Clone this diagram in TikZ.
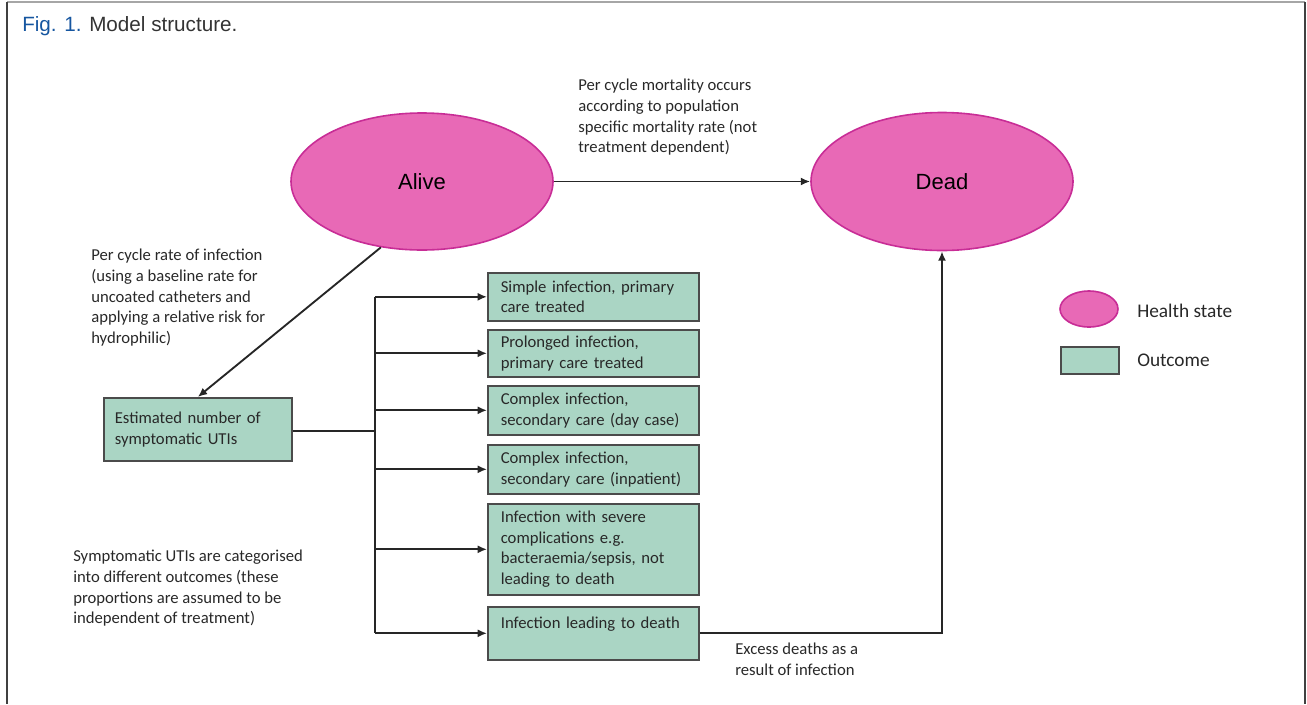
\documentclass[tikz,border=0pt]{standalone}
\usepackage{fontspec}
\setmainfont{Carlito}
\newfontfamily\arialfont{Liberation Sans}
\usetikzlibrary{shapes.geometric,arrows.meta}

\definecolor{statepink}{RGB}{232,105,182}
\definecolor{stateedge}{RGB}{200,45,150}
\definecolor{outgreen}{RGB}{170,213,196}
\definecolor{outedge}{RGB}{75,75,75}
\definecolor{figblue}{RGB}{22,86,160}
\definecolor{txtgray}{RGB}{40,40,40}

\tikzset{
  healthstate/.style={ellipse, draw=stateedge, fill=statepink, line width=1.2pt, inner sep=0pt,
    font=\arialfont\fontsize{16.5}{19}\selectfont, text=black},
  outbox/.style={rectangle, draw=outedge, fill=outgreen, line width=1.2pt, anchor=north west,
    align=left, inner xsep=9.75pt, inner ysep=0pt, text width=138.75pt, text=txtgray,
    font=\fontsize{12.5}{15.5}\selectfont},
  note/.style={anchor=north west, inner sep=0pt, align=left, text=txtgray,
    font=\fontsize{12.5}{15.5}\selectfont},
  arr/.style={-{Latex[length=7pt,width=6pt]}, line width=1.4pt, black!85},
  conn/.style={line width=1.4pt, black!85}
}

\begin{document}
\begin{tikzpicture}[x=0.75pt,y=0.75pt,yscale=-1,xscale=1]
\useasboundingbox (0,0) rectangle (1307,704);

%Frame
\draw [gray!70, line width=1pt] (7,2) -- (1305,2) ;
\draw [black!75, line width=1pt] (7,2) -- (7,704) (1305,2) -- (1305,704) ;

% Title
\node (title) [anchor=west, inner sep=0pt, font=\arialfont\fontsize{15.5}{18}\selectfont, text=black!80]
  at (22,26) {\textcolor{figblue}{Fig. 1.} Model structure.};

%Health states
\node (alive) [healthstate, minimum width=196.5pt, minimum height=102.75pt] at (422,181.5) {Alive};
\node (dead) [healthstate, minimum width=196.5pt, minimum height=103.5pt] at (942,181.5) {Dead};

%Outcomes
\node (est) [outbox, text width=124.5pt, inner xsep=8.25pt, minimum height=47.25pt] at (103,397)
  {Estimated number of\\symptomatic UTIs\\[-4pt]};
\node (o1) [outbox, minimum height=36pt] at (487,272) {Simple infection, primary\\care treated};
\node (o2) [outbox, minimum height=35.25pt] at (487,329) {Prolonged infection,\\primary care treated};
\node (o3) [outbox, minimum height=36.75pt] at (487,385) {Complex infection,\\secondary care (day case)};
\node (o4) [outbox, minimum height=36.75pt] at (487,444) {Complex infection,\\secondary care (inpatient)};
\node (o5) [outbox, minimum height=68.25pt] at (487,503)
  {Infection with severe\\complications e.g.\\bacteraemia/sepsis, not\\leading to death};
\node (o6) [outbox, minimum height=39.75pt] at (487,606) {Infection leading to death\\ \mbox{}};

%Legend
\node (lgstate) [healthstate, minimum width=43.5pt, minimum height=27pt] at (1089,309) {};
\node (lgout) [outbox, minimum width=43.5pt, minimum height=20.25pt, text width=0pt, inner xsep=0pt] at (1060,346) {};
\node (lgstatetxt) [anchor=west, inner sep=0pt, text=txtgray, font=\fontsize{14.5}{17}\selectfont] at (1137,311) {Health state};
\node (lgouttxt) [anchor=west, inner sep=0pt, text=txtgray, font=\fontsize{14.5}{17}\selectfont] at (1137,360) {Outcome};

% Text Node
\node (mortnote) [note] at (578,79) {Per cycle mortality occurs\\according to population\\specific mortality rate (not\\treatment dependent)};
% Text Node
\node (infnote) [note] at (91,249) {Per cycle rate of infection\\(using a baseline rate for\\uncoated catheters and\\applying a relative risk for\\hydrophilic)};
% Text Node
\node (catnote) [note] at (73,550) {Symptomatic UTIs are categorised\\into different outcomes (these\\proportions are assumed to be\\independent of treatment)};
% Text Node
\node (excnote) [note] at (735,643) {Excess deaths as a\\result of infection};

%Connectors
\coordinate (bus) at (375,431);
\draw [arr] (alive.east) -- (dead.west);
\draw [arr] (alive.238) -- (est.north);
\draw [conn] (est.east |- bus) -- (bus);
\draw [conn] (bus |- o1.west) -- (bus |- o6.west);
\foreach \o in {o1,o2,o3,o4,o5,o6}
  \draw [arr] (bus |- \o.west) -- (\o.west);
\draw [arr] (o6.east) -| (dead.south);

\end{tikzpicture}
\end{document}
